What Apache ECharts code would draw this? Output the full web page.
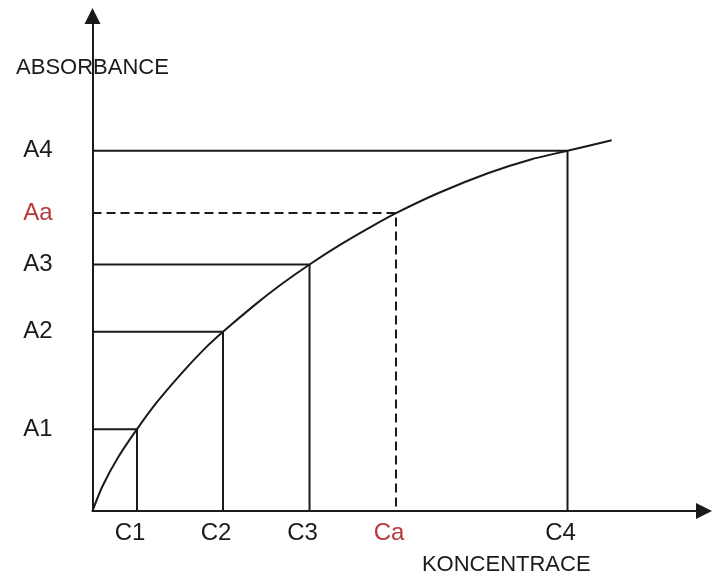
<!DOCTYPE html>
<html>
<head>
<meta charset="utf-8">
<script src="https://cdn.jsdelivr.net/npm/echarts@6/dist/echarts.min.js"></script>
<style>
  html, body { margin: 0; padding: 0; background: #ffffff; }
  #chart { width: 717px; height: 581px; }
</style>
</head>
<body>
<div id="chart"></div>
<script>
// Calibration standards (concentration, absorbance) and the unknown sample
const xLabels = ['C1', 'C2', 'C3', 'Ca', 'C4'];
const yLabels = ['A1', 'A2', 'A3', 'Aa', 'A4'];
const concValues = [7.28, 21.34, 35.49, 49.63, 77.68];
const absValues = [16.53, 36.19, 49.80, 60.18, 72.78];
const unknownIndex = 3; // 'Ca' / 'Aa' drawn dashed and in red
// calibration curve points
const curveX = [0, 1.67, 4.22, 7.28, 10.50, 14.85, 18.12, 21.34, 26.30, 30.66, 35.49, 40.47, 45.38, 49.63, 56.58, 64.76, 71.55, 77.68, 84.91];
const curveY = [0, 5.10, 10.90, 16.53, 21.92, 28.20, 32.50, 36.19, 41.39, 45.60, 49.80, 53.75, 57.30, 60.18, 64.25, 68.29, 70.97, 72.78, 74.90];
const xAxisName = 'KONCENTRACE';
const yAxisName = 'ABSORBANCE';

const RED = '#b8383a';
const INK = '#1a1a1a';
const FONT = '"Liberation Sans", Arial, sans-serif';

const chart = echarts.init(document.getElementById('chart'), null, { renderer: 'canvas' });

const series = [];
series.push({
  type: 'line',
  data: curveX.map((x, i) => [x, curveY[i]]),
  smooth: 0.3,
  showSymbol: false,
  lineStyle: { color: INK, width: 2 },
  silent: true,
  z: 3
});
concValues.forEach((c, i) => {
  const a = absValues[i];
  series.push({
    type: 'line',
    data: [[0, a], [c, a], [c, 0]],
    showSymbol: false,
    lineStyle: {
      color: INK,
      width: 2,
      type: i === unknownIndex ? [9, 5] : 'solid'
    },
    silent: true,
    z: 2
  });
});

function labelFor(values, names) {
  return function (v) {
    for (let i = 0; i < values.length; i++) {
      if (Math.abs(values[i] - v) < 1e-6) {
        return i === unknownIndex ? '{r|' + names[i] + '}' : '{k|' + names[i] + '}';
      }
    }
    return '';
  };
}

const option = {
  backgroundColor: '#ffffff',
  animation: false,
  grid: { left: 92.5, right: 13, top: 16, bottom: 69, containLabel: false },
  xAxis: {
    type: 'value',
    min: 0,
    max: 100,
    name: xAxisName,
    nameLocation: 'middle',
    nameGap: 43,
    nameTextStyle: { fontFamily: FONT, fontSize: 22, color: INK, padding: [0, 0, 0, 216] },
    axisLine: {
      show: true,
      symbol: ['none', 'triangle'],
      symbolSize: [16, 16],
      lineStyle: { color: INK, width: 2 }
    },
    axisTick: { show: false },
    splitLine: { show: false },
    axisLabel: {
      customValues: concValues,
      formatter: labelFor(concValues, xLabels),
      margin: 10,
      padding: [0, 14, 0, 0],
      rich: {
        k: { fontFamily: FONT, fontSize: 24, color: INK },
        r: { fontFamily: FONT, fontSize: 24, color: RED }
      }
    }
  },
  yAxis: {
    type: 'value',
    min: 0,
    max: 100,
    name: yAxisName,
    nameLocation: 'end',
    nameGap: -63,
    nameTextStyle: { fontFamily: FONT, fontSize: 22, color: INK, align: 'center' },
    axisLine: {
      show: true,
      symbol: ['none', 'triangle'],
      symbolSize: [16, 16],
      lineStyle: { color: INK, width: 2 }
    },
    axisTick: { show: false },
    splitLine: { show: false },
    axisLabel: {
      customValues: absValues,
      formatter: labelFor(absValues, yLabels),
      margin: 40,
      rich: {
        k: { fontFamily: FONT, fontSize: 24, color: INK },
        r: { fontFamily: FONT, fontSize: 24, color: RED }
      }
    }
  },
  series: series
};

chart.setOption(option);
</script>
</body>
</html>
